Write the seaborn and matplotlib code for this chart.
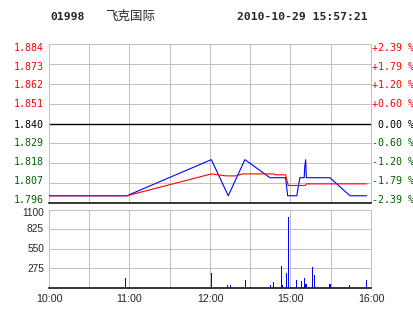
import matplotlib
matplotlib.use("Agg")
import matplotlib.pyplot as plt
import seaborn as sns
import numpy as np
import pandas as pd

# ---- data ----
code = "01998"
name = "飞克国际"
stamp = "2010-10-29 15:57:21"

price_levels = [1.884, 1.873, 1.862, 1.851, 1.840, 1.829, 1.818, 1.807, 1.796]
pct_labels = ["+2.39 %", "+1.79 %", "+1.20 %", "+0.60 %", " 0.00 %",
              "-0.60 %", "-1.20 %", "-1.79 %", "-2.39 %"]
vol_levels = [1100, 825, 550, 275]
time_ticks = [0, 60, 120, 180, 240]
time_labels = ["10:00", "11:00", "12:00", "15:00", "16:00"]

# minutes since 10:00 on compressed trading axis
price_min = [0, 58, 121, 133.6, 146, 164.7, 176.3, 177.9, 184.7, 185.8, 187,
             190.2, 190.6, 191.3, 191.8, 209.4, 224.3, 236.8]
price_val = [1.80, 1.80, 1.82, 1.80, 1.82, 1.81, 1.81, 1.80, 1.80, 1.805, 1.81,
             1.81, 1.816, 1.82, 1.81, 1.81, 1.80, 1.80]

avg_min = [0, 58, 121, 126, 132, 139, 144, 167.5, 168.5, 176.3, 178.3, 190.8,
           192, 236.8]
avg_val = [1.80, 1.80, 1.8121, 1.8116, 1.8110, 1.8110, 1.8121, 1.8121, 1.8116,
           1.8116, 1.8057, 1.8057, 1.8066, 1.8066]

vol_min = [57, 121, 132.4, 135.1, 146.3, 164.9, 167.2, 173.2, 174, 176.9, 178.4,
           184.4, 188, 190.3, 191, 191.8, 196.2, 197.7, 208.9, 209.6, 223.8, 236.5]
vol_val = [143, 213, 42, 42, 111, 42, 88, 310, 42, 213, 995,
           111, 97, 139, 50, 50, 292, 181, 56, 56, 42, 111]

# ---- style ----
sns.set_style("white")
plt.rcParams['font.family'] = ['DejaVu Sans']
GRID = "#c0c0c0"
RED = "#ff0000"
GREEN = "#006400"
BLUE = "#0000ff"
px = 0.72  # 1 pixel in points

fig = plt.figure(figsize=(4.14, 3.14), dpi=100)
ax = fig.add_axes([49/414, 1-203/314, 322/414, 159/314])
axv = fig.add_axes([49/414, 1-288/314, 322/414, 78.5/314])

# ---- price panel ----
ax.set_xlim(0, 240)
ax.set_ylim(1.796, 1.884)
for v in np.arange(30, 240, 30):
    ax.axvline(v, color=GRID, lw=px, zorder=1)
for lv in price_levels:
    if abs(lv - 1.840) < 1e-9:
        ax.axhline(lv, color="black", lw=1.0, zorder=2)
    else:
        ax.axhline(lv, color=GRID, lw=px, zorder=1)

dfp = pd.DataFrame({"t": price_min, "p": price_val})
dfa = pd.DataFrame({"t": avg_min, "p": avg_val})
sns.lineplot(data=dfp, x="t", y="p", ax=ax, color=BLUE, lw=px * 1.1, zorder=3)
sns.lineplot(data=dfa, x="t", y="p", ax=ax, color=RED, lw=px * 1.1, zorder=4)
ax.set_xticks([]); ax.set_yticks([])
ax.set_xlabel(""); ax.set_ylabel("")
for s in ["top", "left", "right"]:
    ax.spines[s].set_color(GRID); ax.spines[s].set_linewidth(px)
ax.spines["bottom"].set_color("black"); ax.spines["bottom"].set_linewidth(1.1)

label_y_px = [48, 67, 85, 104.3, 125, 143.3, 162.3, 181.3, 200]
for i, (lv, pl, ypx) in enumerate(zip(price_levels, pct_labels, label_y_px)):
    col = RED if i < 4 else ("black" if i == 4 else GREEN)
    yf = (203 - ypx) / 159
    ax.text(-5/322, yf, f"{lv:.3f}", transform=ax.transAxes, ha="right",
            va="center", color=col, fontsize=7.2, family="DejaVu Sans Mono")
    ax.text(1.003, yf, pl, transform=ax.transAxes, ha="left",
            va="center", color=col, fontsize=7.2, family="DejaVu Sans Mono")

# ---- volume panel ----
axv.set_xlim(0, 240)
axv.set_ylim(0, 1100)
for v in np.arange(30, 240, 30):
    axv.axvline(v, color=GRID, lw=px, zorder=1)
for lv in vol_levels[1:]:
    axv.axhline(lv, color=GRID, lw=px, zorder=1)
axv.vlines(vol_min, 0, vol_val, color=BLUE, lw=px, zorder=3, antialiased=False)
axv.set_yticks([])
axv.set_xticks(time_ticks)
axv.set_xticklabels(time_labels, fontsize=7.7, family="Liberation Sans")
axv.tick_params(axis="x", length=0, pad=4.5)
for s in ["top", "left", "right"]:
    axv.spines[s].set_color(GRID); axv.spines[s].set_linewidth(px)
axv.spines["bottom"].set_color("black"); axv.spines["bottom"].set_linewidth(1.1)
vol_y_px = [213.3, 229.3, 249, 269]
for lv, ypx in zip(vol_levels, vol_y_px):
    axv.text(-5/322, (288 - ypx) / 78.5, str(lv), transform=axv.transAxes,
             ha="right", va="center", fontsize=7.3, family="Liberation Sans")

# ---- header ----
fig.text(50/414, 1-17/314, code, ha="left", va="center", fontsize=8.2,
         family="DejaVu Sans Mono", weight="bold")
fig.text(105/414, 1-16/314, name, ha="left", va="center", fontsize=9,
         family=["Noto Sans CJK SC", "DejaVu Sans"])
fig.text(237/414, 1-17/314, stamp, ha="left", va="center", fontsize=8.2,
         family="DejaVu Sans Mono", weight="bold")

fig.savefig("out.png", dpi=100)
